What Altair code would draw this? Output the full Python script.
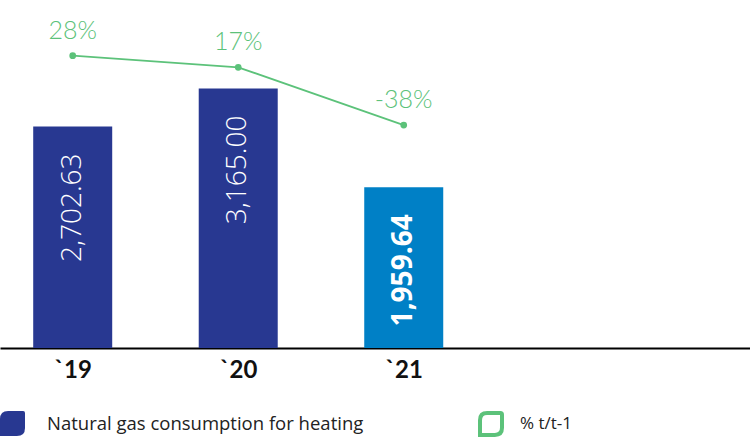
import altair as alt
import pandas as pd

years = ["`19", "`20", "`21"]
consumption = [2702.63, 3165.00, 1959.64]
change_pct = [28, 17, -38]
bar_series = "Natural gas consumption for heating"
line_series = "% t/t-1"

DARK_BLUE = "#283891"
LIGHT_BLUE = "#0080c6"
GREEN = "#5cc27a"
LEAF = "M -1 -0.35 Q -1 -1 -0.35 -1 L 0.85 -1 Q 1 -1 1 -0.85 L 1 0.35 Q 1 1 0.35 1 L -1 1 Z"

df = pd.DataFrame({
    "idx": list(range(len(years))),
    "year": years,
    "value": consumption,
    "pct": change_pct,
    "bars": [bar_series] * len(years),
    "line": [line_series] * len(years),
})
df["pct_label"] = [f"{v}%" for v in change_pct]

label_expr = "[" + ",".join(f"'{y}'" for y in years) + "][datum.value]"

x = alt.X(
    "idx:Q",
    scale=alt.Scale(domain=[-0.4393, 4.092], nice=False, zero=False, padding=0),
    axis=alt.Axis(
        values=list(range(len(years))), labelExpr=label_expr, title=None,
        grid=False, ticks=False, domainColor="#000000", domainWidth=2,
        labelFont="Lato", labelFontSize=24, labelFontWeight="bold",
        labelColor="#111111", labelPadding=10, labelBaseline="top",
        labelFlush=False,
    ),
)
y_bar = alt.Y("value:Q", scale=alt.Scale(domain=[0, 4245], nice=False, padding=0), axis=None)
y_line = alt.Y("pct:Q", scale=alt.Scale(domain=[-250, 81], nice=False, padding=0), axis=None)

base = alt.Chart(df)

bars = base.mark_bar(size=79).encode(
    x=x,
    y=y_bar,
    color=alt.condition(
        "datum.year == '`21'",
        alt.value(LIGHT_BLUE),
        alt.Color(
            "bars:N",
            scale=alt.Scale(domain=[bar_series], range=[DARK_BLUE]),
            legend=alt.Legend(
                title=None, orient="none", legendX=0, legendY=411,
                symbolType=LEAF, symbolSize=625, symbolStrokeWidth=0,
                labelFont="Open Sans", labelFontSize=18.5, labelColor="#222222",
                labelOffset=22, padding=0, labelLimit=0,
            ),
        ),
    ),
)

text_kw = dict(angle=270, align="right", baseline="middle", dx=-27,
               color="white", font="Open Sans", fontSize=28)
bar_text_light = base.mark_text(fontWeight=300, **text_kw).encode(
    x=x, y=y_bar, text=alt.Text("value:Q", format=",.2f"),
).transform_filter("datum.year != '`21'")
bar_text_bold = base.mark_text(fontWeight="bold", **text_kw).encode(
    x=x, y=y_bar, text=alt.Text("value:Q", format=",.2f"),
).transform_filter("datum.year == '`21'")

line = base.mark_line(strokeWidth=1.8).encode(
    x=x,
    y=y_line,
    stroke=alt.Stroke(
        "line:N",
        scale=alt.Scale(domain=[line_series], range=[GREEN]),
        legend=alt.Legend(
            title=None, orient="none", legendX=478, legendY=411,
            symbolType=LEAF, symbolSize=484, symbolStrokeWidth=4,
            symbolFillColor="transparent",
            labelFont="Open Sans", labelFontSize=17, labelColor="#222222",
            labelOffset=16, padding=0, labelLimit=0,
        ),
    ),
)

points = base.mark_circle(size=45, color=GREEN, opacity=1).encode(x=x, y=y_line)

pct_text = base.mark_text(
    baseline="alphabetic", dy=-17, color=GREEN, font="Lato", fontSize=25, fontWeight=300,
).encode(x=x, y=y_line, text="pct_label:N")

left = alt.layer(bars, bar_text_light, bar_text_bold)
right = alt.layer(line, points, pct_text)

chart = alt.layer(left, right).resolve_scale(
    y="independent", color="independent", stroke="independent"
).properties(
    width=750, height=348,
    padding={"left": 0, "top": 0, "right": 0, "bottom": 98},
    autosize=alt.AutoSizeParams(type="none"),
).configure_view(stroke=None)

chart.save("out.html", embed_options={"renderer": "svg", "actions": False})
